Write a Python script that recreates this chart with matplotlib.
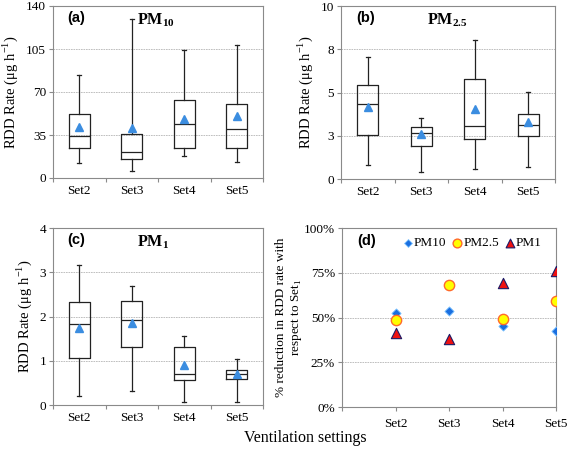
import numpy as np
import matplotlib.pyplot as plt

plt.rcParams['font.family'] = ['Liberation Serif', 'DejaVu Serif']
plt.rcParams['mathtext.fontset'] = 'custom'
plt.rcParams['mathtext.rm'] = 'Liberation Serif'
plt.rcParams['mathtext.bf'] = 'Liberation Serif:bold'

sets = ["Set2", "Set3", "Set4", "Set5"]

# box stats: whisker low, q1, median, q3, whisker high, mean
pm10_lo   = [11.9, 5.4, 17.6, 13.0]
pm10_q1   = [24.6, 15.4, 24.1, 24.1]
pm10_med  = [34.4, 21.1, 44.1, 39.5]
pm10_q3   = [52.5, 35.5, 63.1, 60.4]
pm10_hi   = [83.9, 129.7, 104.0, 108.6]
pm10_mean = [41.4, 40.3, 47.9, 50.4]

pm25_lo   = [0.79, 0.39, 0.56, 0.71]
pm25_q1   = [2.56, 1.91, 2.29, 2.49]
pm25_med  = [4.35, 2.64, 3.08, 3.14]
pm25_q3   = [5.45, 3.02, 5.78, 3.78]
pm25_hi   = [7.03, 3.53, 8.02, 5.01]
pm25_mean = [4.14, 2.58, 4.07, 3.31]

pm1_lo   = [0.20, 0.31, 0.06, 0.07]
pm1_q1   = [1.06, 1.32, 0.56, 0.58]
pm1_med  = [1.82, 1.93, 0.71, 0.71]
pm1_q3   = [2.32, 2.35, 1.32, 0.79]
pm1_hi   = [3.17, 2.68, 1.56, 1.05]
pm1_mean = [1.74, 1.86, 0.91, 0.71]

# % reduction with respect to Set1
red_pm10 = [52.3, 53.8, 45.2, 42.6]
red_pm25 = [48.6, 67.9, 49.3, 59.1]
red_pm1  = [41.5, 37.8, 69.5, 76.1]

fig = plt.figure(figsize=(5.67, 4.5), dpi=100)
W, H = 567, 450

def add_ax(l, t, r, b):
    return fig.add_axes([l / W, 1 - b / H, (r - l) / W, (b - t) / H])

def style(ax):
    for s in ax.spines.values():
        s.set_color('#8a8a8a')
        s.set_linewidth(0.8)
    ax.tick_params(axis='both', direction='out', length=3, color='#8a8a8a',
                   labelsize=9.5, pad=2)
    ax.yaxis.grid(True, color='#b5b5b5', linestyle=(0, (2, 1)), linewidth=0.6)
    ax.set_axisbelow(True)

def box_panel(ax, lo, q1, med, q3, hi, mean, ymax, yticks, ylabels, tag, title):
    stats = []
    for i in range(len(sets)):
        stats.append(dict(whislo=lo[i], q1=q1[i], med=med[i], q3=q3[i],
                          whishi=hi[i], mean=mean[i], fliers=[]))
    pos = np.arange(len(sets)) + 0.5
    ax.bxp(stats, positions=pos, widths=0.4, showmeans=True, showfliers=False,
           boxprops=dict(color='#222222', linewidth=0.9),
           medianprops=dict(color='#222222', linewidth=0.9),
           whiskerprops=dict(color='#222222', linewidth=0.9),
           capprops=dict(color='#222222', linewidth=0.9),
           capwidths=0.08,
           meanprops=dict(marker='^', markerfacecolor='#3b8de0',
                          markeredgecolor='#3b8de0', markersize=5.5))
    ax.set_xlim(0, len(sets))
    ax.set_xticks(np.arange(len(sets) + 1))
    ax.set_xticklabels([])
    ax.set_xticks(pos, minor=True)
    ax.set_xticklabels(sets, minor=True)
    ax.set_ylim(0, ymax)
    ax.set_yticks(yticks)
    ax.set_yticklabels(ylabels)
    style(ax)
    ax.tick_params(axis='x', which='minor', length=0, labelsize=9.5, pad=5)
    ax.set_ylabel(r'RDD Rate (μg h$^{-1}$)', fontsize=10.5, labelpad=4)
    ax.text(0.07, 0.93, tag, transform=ax.transAxes, fontsize=10.5,
            fontweight='bold', family='Liberation Sans', va='center')
    ax.text(0.40, 0.92, title, transform=ax.transAxes, fontsize=11.5,
            fontweight='bold', va='center')

ax1 = add_ax(53, 6, 263, 178)
box_panel(ax1, pm10_lo, pm10_q1, pm10_med, pm10_q3, pm10_hi, pm10_mean,
          140, [0, 35, 70, 105, 140], ['0', '35', '70', '105', '140'],
          '(a)', r'PM$_{\mathbf{10}}$')

ax2 = add_ax(341, 6, 555, 179)
box_panel(ax2, pm25_lo, pm25_q1, pm25_med, pm25_q3, pm25_hi, pm25_mean,
          10, [0, 2.5, 5, 7.5, 10], ['0', '3', '5', '8', '10'],
          '(b)', r'PM$_{\mathbf{2.5}}$')

ax3 = add_ax(53, 228, 263, 405)
box_panel(ax3, pm1_lo, pm1_q1, pm1_med, pm1_q3, pm1_hi, pm1_mean,
          4, [0, 1, 2, 3, 4], ['0', '1', '2', '3', '4'],
          '(c)', r'PM$_{\mathbf{1}}$')

ax4 = add_ax(342, 228, 556, 407)
xd = np.arange(1, len(sets) + 1)
ax4.scatter(xd, red_pm10, marker='D', s=22, color='#1a6fe0',
            edgecolors='#7fc4ff', linewidths=0.6, label='PM10', zorder=3)
ax4.scatter(xd, red_pm25, marker='o', s=55, color='#ffff00',
            edgecolors='#ff6a2a', linewidths=1.0, label='PM2.5', zorder=3)
ax4.scatter(xd, red_pm1, marker='^', s=55, color='#ee1111',
            edgecolors='#1a1a66', linewidths=0.8, label='PM1', zorder=3)
ax4.set_xlim(0, len(sets))
ax4.set_xticks(np.arange(len(sets) + 1))
ax4.set_xticklabels([''] + sets)
ax4.set_ylim(0, 100)
ax4.set_yticks([0, 25, 50, 75, 100])
ax4.set_yticklabels(['0%', '25%', '50%', '75%', '100%'])
style(ax4)
ax4.tick_params(axis='x', pad=5)
ax4.set_ylabel('% reduction in RDD rate with\n' + r'respect to Set$_1$',
               fontsize=9.5, labelpad=0, linespacing=1.15)
ax4.text(0.07, 0.93, '(d)', transform=ax4.transAxes, fontsize=10.5,
         fontweight='bold', family='Liberation Sans', va='center')
ax4.legend(loc='upper left', bbox_to_anchor=(0.23, 1.0), ncol=3, frameon=False,
           fontsize=9.5, handletextpad=-0.1, columnspacing=0.3, handlelength=1.1,
           borderaxespad=0.3, markerscale=0.85)

fig.text(305 / W, 1 - 438 / H, 'Ventilation settings', ha='center',
         va='center', fontsize=11.5)

fig.savefig('out.png', dpi=100)
